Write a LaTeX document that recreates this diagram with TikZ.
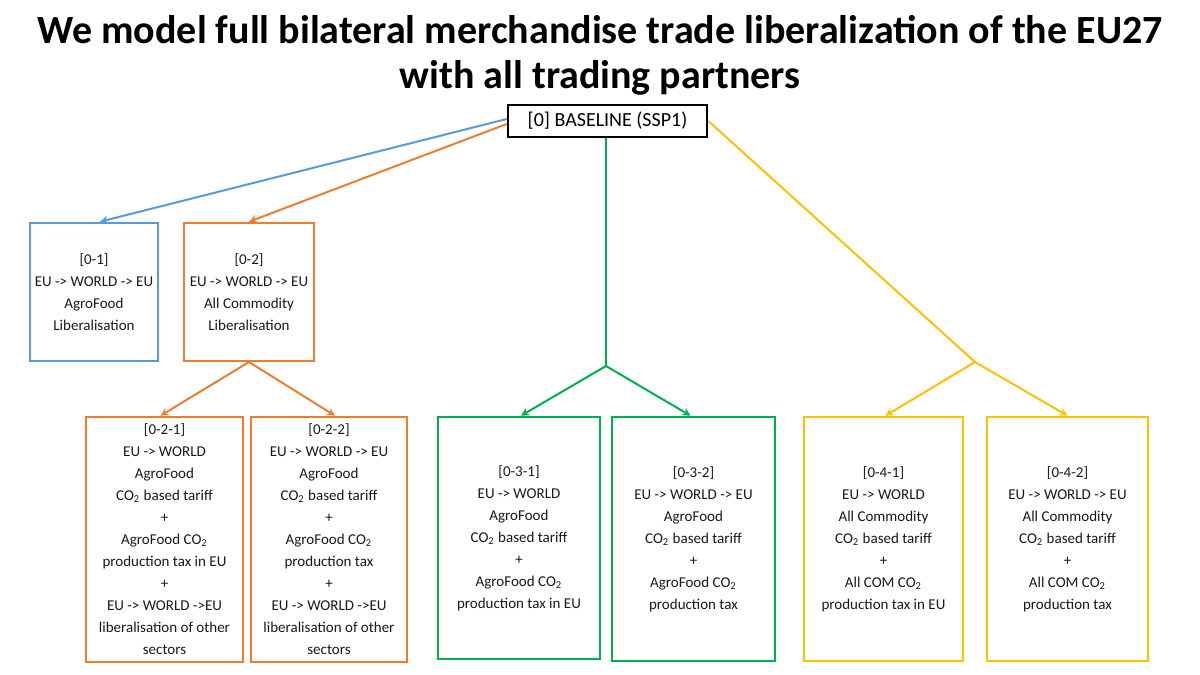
\documentclass[tikz,border=0pt]{standalone}
\usepackage{fontspec}
\setmainfont{Carlito}
\usetikzlibrary{arrows.meta}
\definecolor{cblue}{HTML}{5B9BD5}
\definecolor{corange}{HTML}{ED7D31}
\definecolor{cgreen}{HTML}{00B050}
\definecolor{cyellow}{HTML}{FFC000}
\newcommand{\cotwo}{CO\textsubscript{2}}
\tikzset{
  box/.style={draw=#1, line width=1.3pt, inner sep=0pt, align=center,
    font=\fontsize{7.5}{11}\selectfont, text=black!90},
  conn/.style={draw=#1, line width=1pt, -{Stealth[length=4pt,width=4pt]}},
  seg/.style={draw=#1, line width=1pt},
}
\begin{document}
\begin{tikzpicture}[x=0.5pt,y=-0.5pt]
\useasboundingbox (0,0) rectangle (1200,675);
\fill[white] (0,0) rectangle (1200,675);

\node[font=\bfseries\fontsize{20}{22.5}\selectfont, align=center] (title) at (600,55)
  {We model full bilateral merchandise trade liberalization of the EU27\\with all trading partners};

\node[draw=black, line width=1.3pt, minimum width=99.5pt, minimum height=16pt, inner sep=0pt,
  font=\fontsize{10}{12}\selectfont] (base) at (607.5,121) {[0] BASELINE (SSP1)};

\node[box=cblue, minimum width=64pt, minimum height=69pt] (b1) at (94,292)
  {[0-1]\\EU -> WORLD -> EU\\AgroFood\\Liberalisation};
\node[box=corange, minimum width=65pt, minimum height=69pt] (o2) at (249,292)
  {[0-2]\\EU -> WORLD -> EU\\All Commodity\\Liberalisation};

\node[box=corange, minimum width=78.5pt, minimum height=122.5pt] (o21) at (164.5,539.5)
  {[0-2-1]\\EU -> WORLD\\AgroFood\\\cotwo{} based tariff\\+\\AgroFood \cotwo\\production tax in EU\\+\\EU -> WORLD ->EU\\liberalisation of other\\sectors};
\node[box=corange, minimum width=78pt, minimum height=122.5pt] (o22) at (329,539.5)
  {[0-2-2]\\EU -> WORLD -> EU\\AgroFood\\\cotwo{} based tariff\\+\\AgroFood \cotwo\\production tax\\+\\EU -> WORLD ->EU\\liberalisation of other\\sectors};

\node[box=cgreen, minimum width=81pt, minimum height=121pt] (g1) at (519,538)
  {[0-3-1]\\EU -> WORLD\\AgroFood\\\cotwo{} based tariff\\+\\AgroFood \cotwo\\production tax in EU};
\node[box=cgreen, minimum width=81.5pt, minimum height=122pt] (g2) at (693.5,539)
  {[0-3-2]\\EU -> WORLD -> EU\\AgroFood\\\cotwo{} based tariff\\+\\AgroFood \cotwo\\production tax};

\node[box=cyellow, minimum width=79.5pt, minimum height=122pt] (y1) at (883.5,539)
  {[0-4-1]\\EU -> WORLD\\All Commodity\\\cotwo{} based tariff\\+\\All COM \cotwo\\production tax in EU};
\node[box=cyellow, minimum width=80.5pt, minimum height=122pt] (y2) at (1067.5,539)
  {[0-4-2]\\EU -> WORLD -> EU\\All Commodity\\\cotwo{} based tariff\\+\\All COM \cotwo\\production tax};

\coordinate (gj) at (606,366);
\coordinate (yj) at (975,362);
\coordinate (oj) at (249,362);

% connectors
\draw[conn=cblue] ([yshift=1pt]base.west) -- ([xshift=3pt]b1.north);
\draw[conn=corange] ([yshift=-1.5pt]base.west) -- (o2.north);

\draw[seg=corange] (o2.south) -- (oj);
\draw[conn=corange] (oj) -- ([xshift=-2pt]o21.north);
\draw[conn=corange] (oj) -- ([xshift=3pt]o22.north);

\draw[seg=cgreen] (base.south -| gj) -- (gj);
\draw[conn=cgreen] (gj) -- ([xshift=1pt]g1.north);
\draw[conn=cgreen] (gj) -- ([xshift=-1.5pt]g2.north);

\draw[seg=cyellow] (base.east) -- (yj);
\draw[conn=cyellow] (yj) -- ([xshift=1pt]y1.north);
\draw[conn=cyellow] (yj) -- (y2.north);
\end{tikzpicture}
\end{document}
